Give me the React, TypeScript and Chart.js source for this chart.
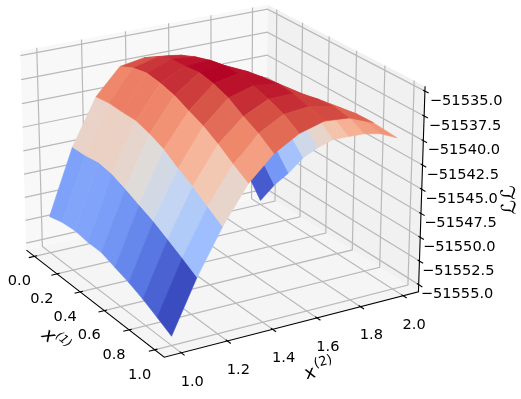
import React, { useEffect, useRef } from "react";
import { Chart, registerables } from "chart.js";

Chart.register(...registerables);

const x1Values = [0, 0.1111, 0.2222, 0.3333, 0.4444, 0.5556, 0.6667, 0.7778, 0.8889, 1];
const x2Values = [1, 1.1111, 1.2222, 1.3333, 1.4444, 1.5556, 1.6667, 1.7778, 1.8889, 2];

const ll0 = [-51551.81, -51551.42, -51551.3, -51551.52, -51551.54, -51552.06, -51552.56, -51553.21, -51553.99, -51554.81];
const ll1 = [-51544.89, -51544.86, -51544.62, -51544.88, -51545.48, -51546.17, -51546.84, -51547.67, -51548.54, -51549.45];
const ll2 = [-51540.07, -51539.87, -51539.92, -51539.9, -51540.36, -51540.98, -51542.02, -51542.88, -51543.94, -51544.95];
const ll3 = [-51537.39, -51536.7, -51536.37, -51536.58, -51536.97, -51537.65, -51538.29, -51539.2, -51540.3, -51541.25];
const ll4 = [-51536.96, -51536.04, -51535.43, -51535.33, -51535.12, -51535.42, -51535.97, -51536.94, -51537.75, -51538.83];
const ll5 = [-51537.22, -51536.36, -51535.7, -51535.2, -51534.89, -51534.87, -51535.25, -51535.73, -51536.36, -51537.37];
const ll6 = [-51539.98, -51538.53, -51537.37, -51536.61, -51536.05, -51535.75, -51535.54, -51535.7, -51536.12, -51536.67];
const ll7 = [-51544.95, -51542.99, -51541.24, -51539.78, -51538.62, -51537.76, -51537.1, -51536.75, -51536.59, -51536.88];
const ll8 = [-51549.51, -51547.05, -51544.89, -51542.73, -51541.08, -51539.82, -51538.96, -51538.2, -51537.94, -51537.89];
const ll9 = [-51555.32, -51552.59, -51550.27, -51547.65, -51545.61, -51543.82, -51542.59, -51541.38, -51540.46, -51539.96];
const llRows = [ll0, ll1, ll2, ll3, ll4, ll5, ll6, ll7, ll8, ll9];

const x1Ticks = [0, 0.2, 0.4, 0.6, 0.8, 1];
const x2Ticks = [1, 1.2, 1.4, 1.6, 1.8, 2];
const zTicks = [-51555, -51552.5, -51550, -51547.5, -51545, -51542.5, -51540, -51537.5, -51535];

const coolwarm = ["#3b4cc0", "#5a78e4", "#7b9ff9", "#9ebeff", "#c0d4f5", "#dddcdc", "#f2cbb7", "#f7ac8e", "#ee8468", "#d65244", "#b40426"];

const X1_LO = -0.0729, X1_HI = 1.0729;
const X2_LO = 0.9271, X2_HI = 2.0729;
const Z_LO = -51555.76, Z_HI = -51534.51;

const ELEV = (22 * Math.PI) / 180;
const AZIM = (-30.5 * Math.PI) / 180;
const HX = 0.5714, HZ = 0.4286, DIST = 10;
const SCALE = 2545, CX = 218.8, CY = 171;

const R = [-Math.sin(AZIM), Math.cos(AZIM), 0];
const T = [-Math.sin(ELEV) * Math.cos(AZIM), -Math.sin(ELEV) * Math.sin(AZIM), Math.cos(ELEV)];
const N = [Math.cos(ELEV) * Math.cos(AZIM), Math.cos(ELEV) * Math.sin(AZIM), Math.sin(ELEV)];

function world(a: number, b: number, c: number) {
  return [
    (((a - X1_LO) / (X1_HI - X1_LO)) * 2 - 1) * HX,
    (((b - X2_LO) / (X2_HI - X2_LO)) * 2 - 1) * HX,
    (((c - Z_LO) / (Z_HI - Z_LO)) * 2 - 1) * HZ,
  ];
}
const dot = (p: number[], q: number[]) => p[0] * q[0] + p[1] * q[1] + p[2] * q[2];
function depthOf(a: number, b: number, c: number) {
  return DIST - dot(world(a, b, c), N);
}
function project(a: number, b: number, c: number) {
  const w = world(a, b, c);
  const d = DIST - dot(w, N);
  return { x: CX + (SCALE * dot(w, R)) / d, y: CY - (SCALE * dot(w, T)) / d };
}

function hexToRgb(h: string) {
  return [parseInt(h.slice(1, 3), 16), parseInt(h.slice(3, 5), 16), parseInt(h.slice(5, 7), 16)];
}
function cmap(v: number) {
  const f = Math.max(0, Math.min(1, v)) * (coolwarm.length - 1);
  const i = Math.min(coolwarm.length - 2, Math.floor(f));
  const a = hexToRgb(coolwarm[i]), b = hexToRgb(coolwarm[i + 1]);
  const t = f - i;
  return `rgb(${a.map((c, k) => Math.round(c + (b[k] - c) * t)).join(",")})`;
}

function lineSet(pts: { x: number; y: number }[], color: string, width: number, order: number) {
  return { data: pts, showLine: true, pointRadius: 0, borderColor: color, borderWidth: width, fill: false, order, tension: 0 };
}
function polySet(pts: { x: number; y: number }[], color: string, order: number, edge: number) {
  return {
    data: [...pts, pts[0]],
    showLine: true,
    pointRadius: 0,
    borderColor: color,
    backgroundColor: color,
    borderWidth: edge,
    fill: "shape",
    order,
    tension: 0,
  };
}

function buildDatasets() {
  const sets: any[] = [];
  const a0 = X1_LO, a1 = X1_HI, b0 = X2_LO, b1 = X2_HI;
  // panes
  sets.push(polySet([project(a0, b0, Z_LO), project(a0, b1, Z_LO), project(a0, b1, Z_HI), project(a0, b0, Z_HI)], "#f8f8f8", 100000, 0));
  sets.push(polySet([project(a0, b1, Z_LO), project(a1, b1, Z_LO), project(a1, b1, Z_HI), project(a0, b1, Z_HI)], "#f1f1f1", 100000, 0));
  sets.push(polySet([project(a0, b0, Z_LO), project(a1, b0, Z_LO), project(a1, b1, Z_LO), project(a0, b1, Z_LO)], "#f5f5f5", 100000, 0));
  // grid
  const gridColor = "#b9b9b9";
  x1Ticks.forEach((t) => sets.push(lineSet([project(t, b0, Z_LO), project(t, b1, Z_LO), project(t, b1, Z_HI)], gridColor, 1.2, 90000)));
  x2Ticks.forEach((t) => sets.push(lineSet([project(a1, t, Z_LO), project(a0, t, Z_LO), project(a0, t, Z_HI)], gridColor, 1.2, 90000)));
  zTicks.forEach((t) => sets.push(lineSet([project(a0, b0, t), project(a0, b1, t), project(a1, b1, t)], gridColor, 1.2, 90000)));
  // axes
  const axis = "#000000";
  sets.push(lineSet([project(a0, b0, Z_LO), project(a1, b0, Z_LO), project(a1, b1, Z_LO), project(a1, b1, Z_HI)], axis, 1.1, 80000));
  x1Ticks.forEach((t) => sets.push(lineSet([project(t, b0 + 0.012, Z_LO), project(t, b0 - 0.025, Z_LO)], axis, 1.1, 80000)));
  x2Ticks.forEach((t) => sets.push(lineSet([project(a1 - 0.012, t, Z_LO), project(a1 + 0.025, t, Z_LO)], axis, 1.1, 80000)));
  zTicks.forEach((t) => sets.push(lineSet([project(a1 - 0.012, b1, t), project(a1 + 0.025, b1, t)], axis, 1.1, 80000)));
  // surface
  const facets: { pts: number[][]; mean: number; depth: number }[] = [];
  for (let j = 0; j < x2Values.length - 1; j++) {
    for (let i = 0; i < x1Values.length - 1; i++) {
      const pts = [
        [x1Values[i], x2Values[j], llRows[j][i]],
        [x1Values[i + 1], x2Values[j], llRows[j][i + 1]],
        [x1Values[i + 1], x2Values[j + 1], llRows[j + 1][i + 1]],
        [x1Values[i], x2Values[j + 1], llRows[j + 1][i]],
      ];
      const mean = pts.reduce((s, p) => s + p[2], 0) / 4;
      const depth = pts.reduce((s, p) => s + depthOf(p[0], p[1], p[2]), 0) / 4;
      facets.push({ pts, mean, depth });
    }
  }
  const lo = Math.min(...facets.map((f) => f.mean));
  const hi = Math.max(...facets.map((f) => f.mean));
  facets.sort((p, q) => q.depth - p.depth);
  facets.forEach((f, k) => {
    const color = cmap((f.mean - lo) / (hi - lo));
    sets.push(polySet(f.pts.map((p) => project(p[0], p[1], p[2])), color, 1000 - k, 0.6));
  });
  return sets;
}

const labelsPlugin = {
  id: "labels3d",
  afterDraw(chart: any) {
    const ctx = chart.ctx as CanvasRenderingContext2D;
    const sx = chart.scales.x, sy = chart.scales.y;
    const at = (p: { x: number; y: number }) => ({ x: sx.getPixelForValue(p.x), y: sy.getPixelForValue(p.y) });
    ctx.save();
    ctx.fillStyle = "#000000";
    ctx.font = '14.6px "DejaVu Sans"';
    ctx.textBaseline = "middle";
    ctx.textAlign = "center";
    x1Ticks.forEach((t) => {
      const p = at(project(t, X2_LO, Z_LO));
      ctx.fillText(t.toFixed(1), p.x - 15, p.y + 25);
    });
    x2Ticks.forEach((t) => {
      const p = at(project(X1_HI, t, Z_LO));
      ctx.fillText(t.toFixed(1), p.x + 11, p.y + 29);
    });
    ctx.textAlign = "left";
    zTicks.forEach((t) => {
      const p = at(project(X1_HI, X2_HI, t));
      const f = (t - Z_LO) / (Z_HI - Z_LO);
      ctx.fillText("\u2212" + Math.abs(t).toFixed(1), p.x + 2 + 3 * f, p.y + 10);
    });
    // axis titles
    const title = (cx: number, cy: number, rot: number, main: string, sup: string, mainFont: string, supFont: string, dx: number, dy: number) => {
      ctx.save();
      ctx.translate(cx, cy);
      ctx.rotate(rot);
      ctx.textAlign = "left";
      ctx.font = mainFont;
      ctx.fillText(main, 0, 0);
      const w = ctx.measureText(main).width;
      ctx.font = supFont;
      ctx.fillText(sup, w + dx, dy);
      ctx.restore();
    };
    title(43.8, 332.5, (40 * Math.PI) / 180, "x", "(1)", 'italic 19px "DejaVu Sans"', 'italic 12px "DejaVu Sans"', 0, -7);
    title(305, 375, (-15 * Math.PI) / 180, "x", "(2)", '18px "DejaVu Sans"', '13px "DejaVu Sans"', 1, -8);
    ctx.save();
    ctx.translate(510, 200);
    ctx.rotate((-92 * Math.PI) / 180);
    ctx.textAlign = "center";
    ctx.font = '20px "DejaVu Sans"';
    ctx.fillText("\u2112\u2112", 0, 0);
    ctx.restore();
    ctx.restore();
  },
};

export default function App() {
  const ref = useRef<HTMLCanvasElement>(null);
  useEffect(() => {
    document.body.style.margin = "0";
    document.body.style.background = "#ffffff";
    const chart = new Chart(ref.current as HTMLCanvasElement, {
      type: "scatter",
      data: { datasets: buildDatasets() },
      options: {
        animation: false,
        responsive: false,
        devicePixelRatio: 1,
        layout: { padding: 0 },
        plugins: { legend: { display: false }, tooltip: { enabled: false } },
        scales: {
          x: { type: "linear", min: 0, max: 521, display: false },
          y: { type: "linear", min: 0, max: 399, reverse: true, display: false },
        },
      },
      plugins: [labelsPlugin],
    } as any);
    return () => chart.destroy();
  }, []);
  return <canvas ref={ref} width={521} height={399} style={{ display: "block" }} />;
}
